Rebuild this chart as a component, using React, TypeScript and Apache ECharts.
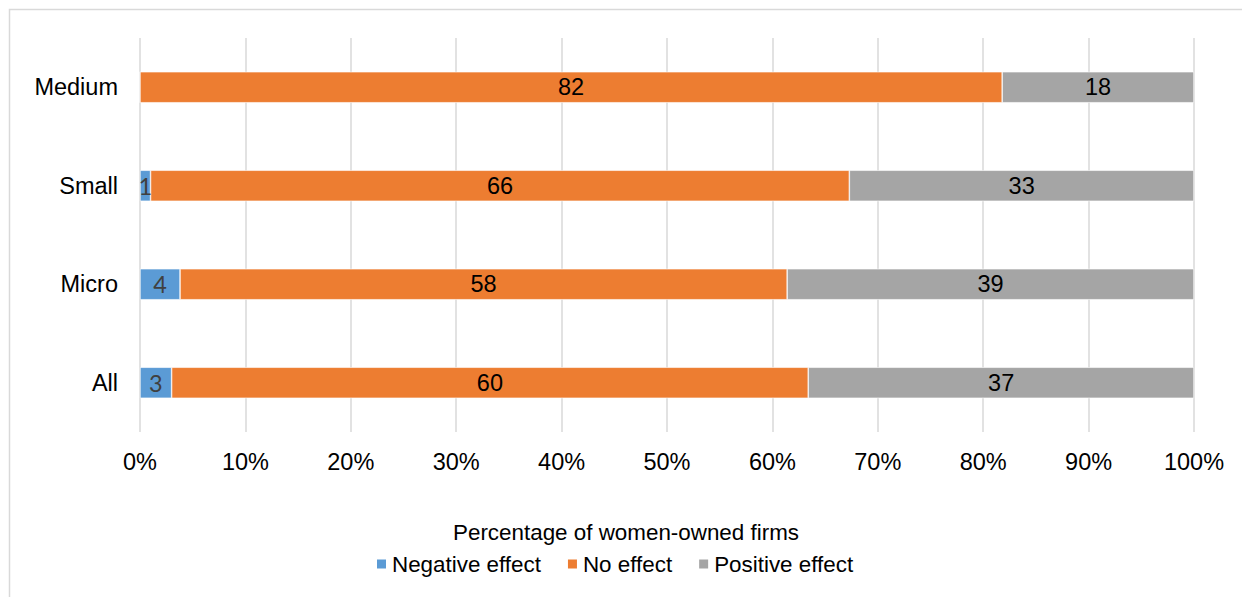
import React, { useEffect, useRef } from "react";
import * as echarts from "echarts";

const categories = ["All", "Micro", "Small", "Medium"];
const negativeEffect = [3.0, 3.8, 1.0, 0];
const noEffect = [60.4, 57.6, 66.3, 81.8];
const positiveEffect = [36.6, 38.6, 32.7, 18.2];
const tickLabels = ["0%", "10%", "20%", "30%", "40%", "50%", "60%", "70%", "80%", "90%", "100%"];

export default function App() {
  const ref = useRef<HTMLDivElement>(null);
  useEffect(() => {
    const chart = echarts.init(ref.current!, null, { renderer: "svg" });
    const font = "'Liberation Sans', Arial, sans-serif";
    const fs = 23.5;
    const fsSmall = 22.4;
    const mkLabel = (color: string, family: string) => ({
      show: true,
      position: "inside" as const,
      color,
      fontFamily: family,
      fontSize: fs,
      formatter: (p: any) => (p.value > 0 ? String(Math.round(p.value)) : ""),
    });
    chart.setOption({
      animation: false,
      backgroundColor: "#ffffff",
      textStyle: { fontFamily: font },
      graphic: [
        {
          type: "rect",
          shape: { x: 9.5, y: 9.5, width: 1260, height: 620 },
          style: { fill: "none", stroke: "#d9d9d9", lineWidth: 1.5 },
          silent: true,
        },
      ],
      grid: { left: 140, right: 48, top: 38, bottom: 165 },
      legend: {
        data: ["Negative effect", "No effect", "Positive effect"],
        bottom: 17,
        left: 370,
        icon: "rect",
        itemWidth: 11,
        itemHeight: 11,
        itemGap: 25,
        textStyle: { fontSize: fsSmall, color: "#000", fontFamily: font },
      },
      xAxis: {
        type: "value",
        min: 0,
        max: 100,
        interval: 10,
        name: "Percentage of women-owned firms",
        nameLocation: "middle",
        nameGap: 89,
        nameTextStyle: {
          fontSize: fsSmall,
          color: "#000",
          fontFamily: font,
          padding: [0, 82, 0, 0],
        },
        axisLine: { show: false },
        axisTick: { show: false },
        axisLabel: {
          fontSize: fs,
          color: "#000",
          margin: 18,
          formatter: (v: number) => tickLabels[Math.round(v / 10)],
        },
        splitLine: { show: true, lineStyle: { color: "#d9d9d9", width: 1.5 } },
      },
      yAxis: {
        type: "category",
        data: categories,
        axisLine: { show: false },
        axisTick: { show: false },
        axisLabel: { fontSize: fs, color: "#000", margin: 22 },
        splitLine: { show: false },
      },
      series: [
        {
          name: "Negative effect",
          type: "bar",
          stack: "total",
          data: negativeEffect,
          barWidth: 31,
          itemStyle: { color: "#5b9bd5", borderColor: "#ffffff", borderWidth: 0.6 },
          label: mkLabel("#404040", "Lato, 'Open Sans', sans-serif"),
        },
        {
          name: "No effect",
          type: "bar",
          stack: "total",
          data: noEffect,
          barWidth: 31,
          itemStyle: { color: "#ed7d31", borderColor: "#ffffff", borderWidth: 0.6 },
          label: mkLabel("#000000", font),
        },
        {
          name: "Positive effect",
          type: "bar",
          stack: "total",
          data: positiveEffect,
          barWidth: 31,
          itemStyle: { color: "#a5a5a5", borderColor: "#ffffff", borderWidth: 0.6 },
          label: mkLabel("#000000", font),
        },
      ],
    });
    return () => chart.dispose();
  }, []);
  return (
    <div
      ref={ref}
      style={{ position: "absolute", left: 0, top: 0, width: 1242, height: 597 }}
    />
  );
}
